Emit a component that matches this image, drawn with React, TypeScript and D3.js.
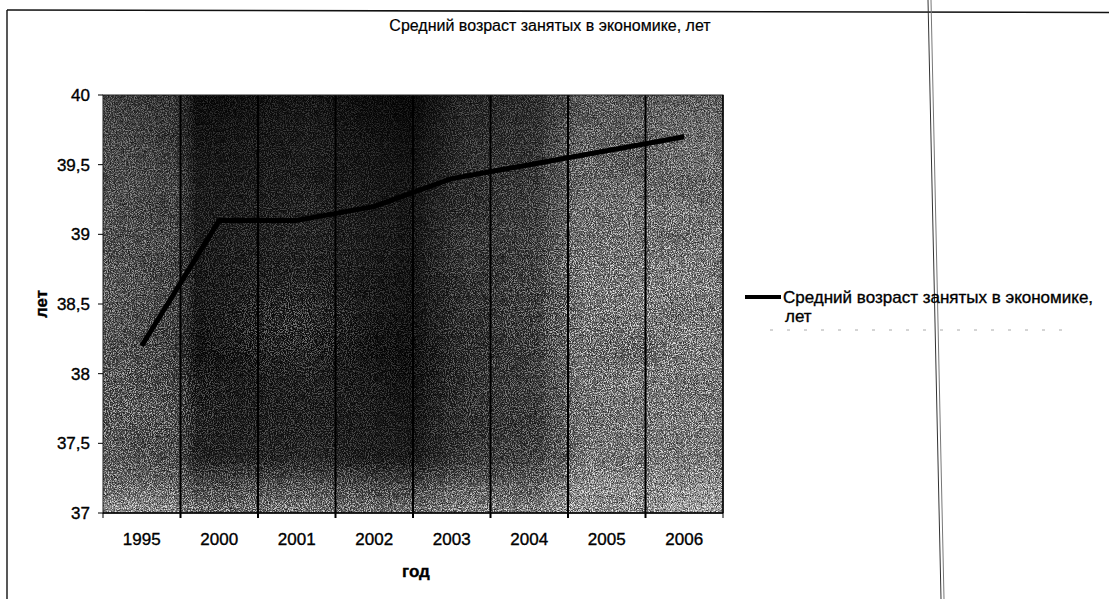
import React from "react";
import * as d3 from "d3";

const categories = ["1995", "2000", "2001", "2002", "2003", "2004", "2005", "2006"];
const values = [38.2, 39.1, 39.1, 39.2, 39.4, 39.5, 39.6, 39.7];
const yTicks = [37, 37.5, 38, 38.5, 39, 39.5, 40];
const title = "Средний возраст занятых в экономике, лет";
const seriesName = ["Средний возраст занятых в экономике,", "лет"];
const xTitle = "год";
const yTitle = "лет";

const W = 1109;
const H = 599;
const P = { left: 103, right: 723, top: 95, bottom: 513 };
const FONT = "'Liberation Sans', Arial, sans-serif";

export default function App() {
  const x = d3.scaleBand<string>().domain(categories).range([P.left, P.right]).padding(0);
  const y = d3.scaleLinear().domain([37, 40]).range([P.bottom, P.top]);
  const line = d3
    .line<number>()
    .x((_, i) => (x(categories[i]) as number) + x.bandwidth() / 2)
    .y((d) => y(d));
  const pw = P.right - P.left;
  const ph = P.bottom - P.top;
  const fmt = (v: number) => String(v).replace(".", ",");
  const boundaries = categories.slice(1).map((c) => x(c) as number);
  const txt = { fontFamily: FONT, fill: "#000", stroke: "#000", strokeWidth: 0.35 } as const;
  const R = (fill: string, extra: any = {}) => (
    <rect x={P.left} y={P.top} width={pw} height={ph} fill={fill} {...extra} />
  );

  return (
    <svg width={W} height={H} style={{ display: "block", position: "absolute", left: 0, top: 0 }}>
      <defs>
        <linearGradient id="bgH" x1="0" y1="0" x2="1" y2="0">
          <stop offset="0" stopColor="#404040" />
          <stop offset="0.12" stopColor="#2e2e2e" />
          <stop offset="0.15" stopColor="#080808" />
          <stop offset="0.33" stopColor="#0e0e0e" />
          <stop offset="0.5" stopColor="#040404" />
          <stop offset="0.58" stopColor="#1e1e1e" />
          <stop offset="0.7" stopColor="#262626" />
          <stop offset="0.77" stopColor="#5a5a5a" />
          <stop offset="1" stopColor="#666" />
        </linearGradient>
        <linearGradient id="mH" x1="0" y1="0" x2="1" y2="0">
          <stop offset="0" stopColor="#8a8a8a" />
          <stop offset="0.12" stopColor="#777" />
          <stop offset="0.15" stopColor="#383838" />
          <stop offset="0.33" stopColor="#484848" />
          <stop offset="0.5" stopColor="#2a2a2a" />
          <stop offset="0.58" stopColor="#5e5e5e" />
          <stop offset="0.7" stopColor="#707070" />
          <stop offset="0.77" stopColor="#c4c4c4" />
          <stop offset="1" stopColor="#cccccc" />
        </linearGradient>
        <linearGradient id="mV" x1="0" y1="0" x2="0" y2="1">
          <stop offset="0" stopColor="#fff" stopOpacity="0" />
          <stop offset="0.86" stopColor="#fff" stopOpacity="0.05" />
          <stop offset="1" stopColor="#fff" stopOpacity="0.7" />
        </linearGradient>
        <linearGradient id="mTop" x1="0" y1="0" x2="0" y2="1">
          <stop offset="0" stopColor="#000" stopOpacity="0.35" />
          <stop offset="0.4" stopColor="#000" stopOpacity="0" />
        </linearGradient>
        <radialGradient id="mR1" cx="0.84" cy="0.5" r="0.22">
          <stop offset="0" stopColor="#fff" stopOpacity="0.35" />
          <stop offset="1" stopColor="#fff" stopOpacity="0" />
        </radialGradient>
        <radialGradient id="mR2" cx="0.3" cy="0.55" r="0.14">
          <stop offset="0" stopColor="#fff" stopOpacity="0.3" />
          <stop offset="1" stopColor="#fff" stopOpacity="0" />
        </radialGradient>
        <radialGradient id="mR3" cx="0.06" cy="0.75" r="0.16">
          <stop offset="0" stopColor="#fff" stopOpacity="0.35" />
          <stop offset="1" stopColor="#fff" stopOpacity="0" />
        </radialGradient>
        <linearGradient id="bgV" x1="0" y1="0" x2="0" y2="1">
          <stop offset="0" stopColor="#000" stopOpacity="0.15" />
          <stop offset="0.6" stopColor="#fff" stopOpacity="0" />
          <stop offset="0.88" stopColor="#fff" stopOpacity="0.05" />
          <stop offset="1" stopColor="#fff" stopOpacity="0.35" />
        </linearGradient>
        <mask id="lightMask" maskUnits="userSpaceOnUse" x={P.left} y={P.top} width={pw} height={ph}>
          {R("url(#mH)")}
          {R("url(#mV)")}
          {R("url(#mTop)")}
          {R("url(#mR1)")}
          {R("url(#mR2)")}
          {R("url(#mR3)")}
        </mask>
        <filter id="grainW" x="0" y="0" width="100%" height="100%">
          <feTurbulence type="fractalNoise" baseFrequency="0.95" numOctaves="2" seed="4" result="n" />
          <feColorMatrix
            in="n"
            type="matrix"
            values="0 0 0 0 1  0 0 0 0 1  0 0 0 0 1  5 0 0 0 -2.2"
          />
        </filter>
        <filter id="grainB" x="0" y="0" width="100%" height="100%">
          <feTurbulence type="fractalNoise" baseFrequency="0.85" numOctaves="2" seed="11" result="n" />
          <feColorMatrix
            in="n"
            type="matrix"
            values="0 0 0 0 0  0 0 0 0 0  0 0 0 0 0  5 0 0 0 -2.5"
          />
        </filter>
        <filter id="blotch" x="0" y="0" width="100%" height="100%">
          <feTurbulence type="fractalNoise" baseFrequency="0.012 0.02" numOctaves="2" seed="7" result="n" />
          <feColorMatrix
            in="n"
            type="matrix"
            values="0 0 0 0 0  0 0 0 0 0  0 0 0 0 0  1.6 0 0 0 -0.7"
          />
        </filter>
      </defs>

      {/* outer frame (scan) */}
      <line x1={7} y1={10} x2={W} y2={12.5} stroke="#111" strokeWidth={1.6} />
      <line x1={7} y1={10} x2={7} y2={H} stroke="#111" strokeWidth={1.4} />
      <line x1={928} y1={0} x2={941} y2={H} stroke="#333" strokeWidth={1} />
      <line x1={931} y1={0} x2={944} y2={H} stroke="#777" strokeWidth={1} />
      <line x1={770} y1={330} x2={1065} y2={330} stroke="#aaa" strokeWidth={1} strokeDasharray="3 14" />

      {/* title */}
      <text x={550} y={31} textAnchor="middle" fontSize={16} {...txt} strokeWidth={0.2}>
        {title}
      </text>

      {/* plot area background */}
      <g>
        {R("url(#bgH)")}
        {R("url(#bgV)")}
        {R("#000", { filter: "url(#blotch)", opacity: 0.4 })}
        <g mask="url(#lightMask)">{R("#fff", { filter: "url(#grainW)", opacity: 0.95 })}</g>
        {R("#000", { filter: "url(#grainB)", opacity: 0.6 })}
      </g>

      {/* vertical category gridlines */}
      {boundaries.map((bx, i) => (
        <line key={i} x1={bx} y1={P.top} x2={bx} y2={P.bottom + 5} stroke="#000" strokeWidth={2} />
      ))}

      {/* plot border */}
      <rect x={P.left} y={P.top} width={pw} height={ph} fill="none" stroke="#222" strokeWidth={1} />
      <line x1={P.right} y1={P.top} x2={P.right} y2={P.bottom} stroke="#000" strokeWidth={1.5} />
      <line x1={P.left} y1={P.bottom} x2={P.right} y2={P.bottom} stroke="#000" strokeWidth={1.5} />

      {/* y axis */}
      {yTicks.map((t) => (
        <g key={t}>
          <line x1={P.left - 5} y1={y(t)} x2={P.left} y2={y(t)} stroke="#000" strokeWidth={1} />
          <text x={90} y={y(t)} dy="0.36em" textAnchor="end" fontSize={17} {...txt}>
            {fmt(t)}
          </text>
        </g>
      ))}
      <text
        transform={`translate(47, ${(P.top + P.bottom) / 2}) rotate(-90)`}
        textAnchor="middle"
        fontSize={17}
        fontWeight="bold"
        {...txt}
      >
        {yTitle}
      </text>

      {/* x axis */}
      <line x1={P.left} y1={P.bottom} x2={P.left} y2={P.bottom + 5} stroke="#000" />
      <line x1={P.right} y1={P.bottom} x2={P.right} y2={P.bottom + 5} stroke="#000" />
      {categories.map((c) => (
        <text
          key={c}
          x={(x(c) as number) + x.bandwidth() / 2}
          y={545}
          textAnchor="middle"
          fontSize={17}
          {...txt}
        >
          {c}
        </text>
      ))}
      <text
        x={(P.left + P.right) / 2 + 3}
        y={577}
        textAnchor="middle"
        fontSize={17}
        fontWeight="bold"
        {...txt}
      >
        {xTitle}
      </text>

      {/* series line */}
      <path d={line(values) || ""} fill="none" stroke="#000" strokeWidth={5} strokeLinejoin="round" />

      {/* legend */}
      <line x1={745} y1={297} x2={781} y2={297} stroke="#000" strokeWidth={4} />
      <text x={783} y={303} fontSize={17} {...txt}>
        {seriesName[0]}
      </text>
      <text x={785} y={322} fontSize={17} {...txt}>
        {seriesName[1]}
      </text>
    </svg>
  );
}
